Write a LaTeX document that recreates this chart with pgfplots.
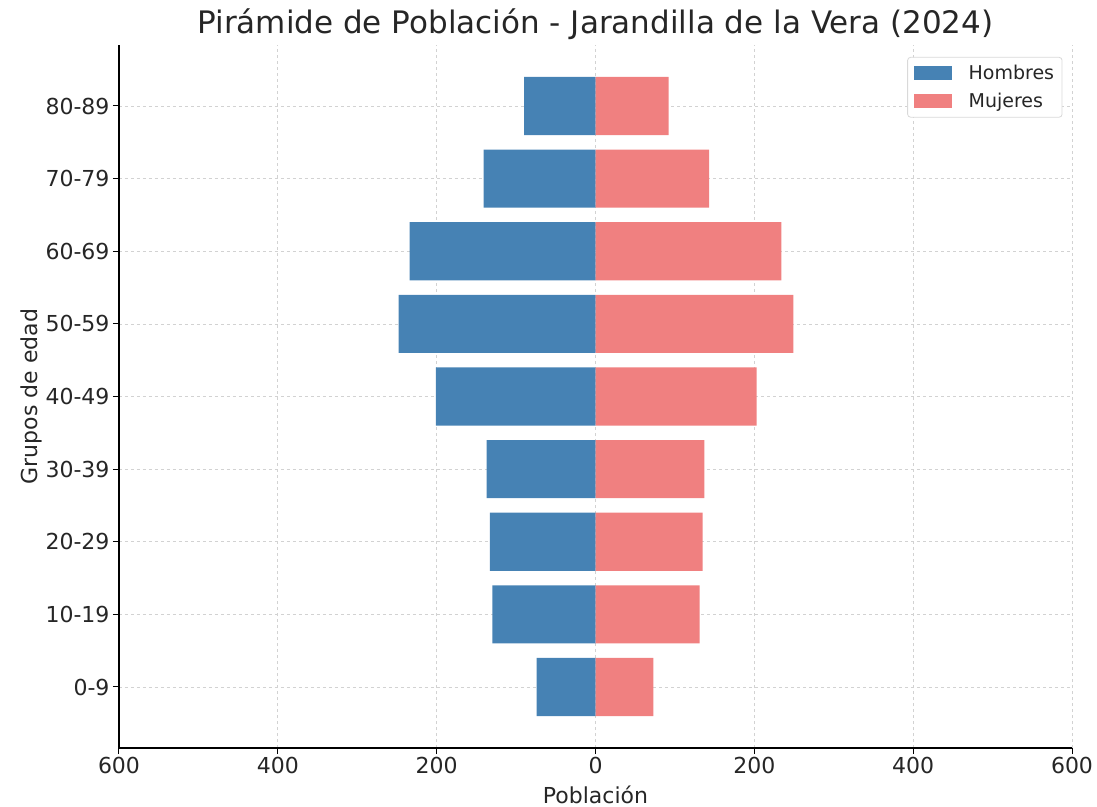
\documentclass[border=0pt]{standalone}
\usepackage{pgfplots}
\pgfplotsset{compat=1.18}
\usetikzlibrary{calc}
\usepackage{fontspec}
\setmainfont{DejaVu Sans}
\definecolor{hombres}{HTML}{4682B4}
\definecolor{mujeres}{HTML}{F08080}
\definecolor{txt}{HTML}{262626}

\begin{document}
\begin{tikzpicture}
\begin{axis}[
    name=pyr,
    scale only axis,
    width=953pt, height=703pt,
    xbar, bar shift=0pt, bar width=0.8,
    xmin=-600, xmax=600,
    ymin=-0.84, ymax=8.84,
    xtick={-600,-400,-200,0,200,400,600},
    xticklabels={600,400,200,0,200,400,600},
    ytick={0,...,8},
    yticklabels={0-9,10-19,20-29,30-39,40-49,50-59,60-69,70-79,80-89},
    axis x line*=bottom, axis y line*=left,
    axis line style={black, line width=1.1pt},
    tick align=outside,
    major tick length=6pt,
    tick style={black, line width=1pt},
    grid=major,
    major grid style={dashed, gray!35, line width=0.7pt},
    ticklabel style={font=\fontsize{22}{26}\selectfont, text=txt},
    /pgf/number format/assume math mode=true,
    xlabel={Población}, ylabel={Grupos de edad},
    label style={font=\fontsize{22}{26}\selectfont, text=txt},
    xlabel style={yshift=-5pt},
    ylabel style={yshift=-3pt},
    title={Pirámide de Población - Jarandilla de la Vera (2024)},
    title style={font=\fontsize{31}{35}\selectfont, text=txt, yshift=-4pt},
    legend style={at={(0.99,0.983)}, anchor=north east,
        font=\fontsize{19}{23}\selectfont, text=txt,
        draw=gray!30, rounded corners=3pt, line width=0.8pt,
        inner xsep=6pt, inner ysep=6pt, row sep=8pt, column sep=15pt},
    legend image code/.code={\fill[#1, sharp corners] (0pt,-7pt) rectangle (38pt,7pt);},
    legend cell align=left,
]
\addplot[fill=hombres, draw=none] coordinates {
    (-74,0) (-130,1) (-133,2) (-137,3) (-201,4) (-248,5) (-234,6) (-141,7) (-90,8)
};
\addlegendentry{Hombres}
\addplot[fill=mujeres, draw=none] coordinates {
    (73,0) (131,1) (135,2) (137,3) (203,4) (249,5) (234,6) (143,7) (92,8)
};
\addlegendentry{Mujeres}
\end{axis}
\pgfresetboundingbox
\path[use as bounding box] ($(pyr.south west)+(-119pt,-59pt)$) rectangle ($(pyr.north east)+(25pt,45pt)$);
\end{tikzpicture}
\end{document}
